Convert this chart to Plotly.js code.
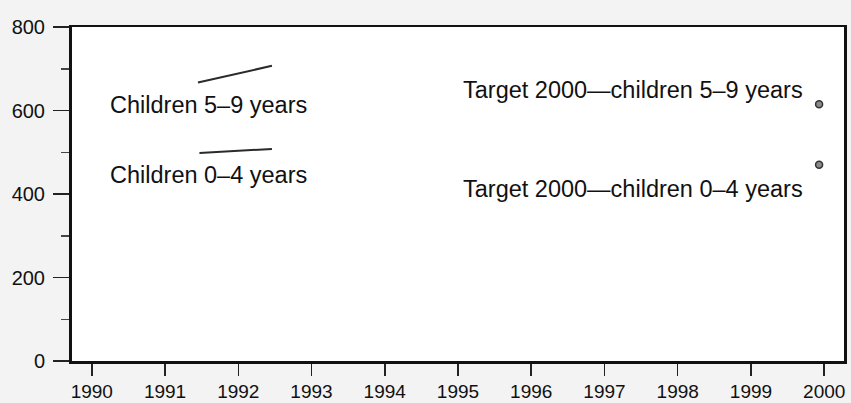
<!DOCTYPE html>
<html>
<head>
<meta charset="utf-8">
<script src="https://cdn.plot.ly/plotly-3.0.1.min.js"></script>
<style>html,body{margin:0;padding:0;background:#f3f3f3;}#chart{width:851px;height:403px;}</style>
</head>
<body>
<div id="chart"></div>
<script>
// Data
const years59 = [1991.45, 1992.46];
const values59 = [667, 707];
const years04 = [1991.47, 1992.46];
const values04 = [498, 508];
const targetYears = [1999.93, 1999.93];
const targetValues = [615, 470];
const xTicks = [1990, 1991, 1992, 1993, 1994, 1995, 1996, 1997, 1998, 1999, 2000];
const yTicks = [0, 200, 400, 600, 800];
const labels = ["Children 5–9 years", "Children 0–4 years", "Target 2000—children 5–9 years", "Target 2000—children 0–4 years"];

const lineStyle = {color: '#2a2a2a', width: 2};
const traces = [
  {x: years59, y: values59, mode: 'lines', line: lineStyle, hoverinfo: 'skip'},
  {x: years04, y: values04, mode: 'lines', line: lineStyle, hoverinfo: 'skip'},
  {x: targetYears, y: targetValues, mode: 'markers',
   marker: {size: 7, color: '#8a8a8a', line: {color: '#333', width: 1.5}}, hoverinfo: 'skip'}
];

const font = {family: 'Liberation Sans, Arial, sans-serif', color: '#111'};
const annFont = Object.assign({}, font, {size: 23.5});
const layout = {
  width: 851, height: 403,
  margin: {l: 72, r: 7, t: 27, b: 42},
  paper_bgcolor: '#f3f3f3',
  plot_bgcolor: '#ffffff',
  showlegend: false,
  font: font,
  xaxis: {
    range: [1989.73, 2000.27],
    tickvals: xTicks, ticktext: xTicks.map(String),
    ticks: 'outside', ticklen: 12, tickwidth: 1.5, tickcolor: '#222',
    ticklabelstandoff: 0,
    showline: true, linecolor: '#111', linewidth: 2.5, mirror: true,
    showgrid: false, zeroline: false,
    tickfont: Object.assign({}, font, {size: 19})
  },
  yaxis: {
    range: [0, 800],
    tickvals: yTicks, ticktext: yTicks.map(String),
    ticks: 'outside', ticklen: 16, tickwidth: 1.5, tickcolor: '#222',
    minor: {dtick: 100, tick0: 0, ticks: 'outside', ticklen: 8, tickwidth: 1.5, tickcolor: '#444'},
    ticklabelstandoff: 4,
    showline: true, linecolor: '#111', linewidth: 3, mirror: true,
    showgrid: false, zeroline: false,
    tickfont: Object.assign({}, font, {size: 20})
  },
  annotations: [
    {x: 1990.22, y: 612, xref: 'x', yref: 'y', text: labels[0], showarrow: false, xanchor: 'left', yanchor: 'middle', font: annFont},
    {x: 1990.22, y: 446, xref: 'x', yref: 'y', text: labels[1], showarrow: false, xanchor: 'left', yanchor: 'middle', font: annFont},
    {x: 1999.74, y: 648, xref: 'x', yref: 'y', text: labels[2], showarrow: false, xanchor: 'right', yanchor: 'middle', font: annFont},
    {x: 1999.74, y: 413, xref: 'x', yref: 'y', text: labels[3], showarrow: false, xanchor: 'right', yanchor: 'middle', font: annFont}
  ]
};

Plotly.newPlot('chart', traces, layout, {displayModeBar: false, staticPlot: true});
</script>
</body>
</html>
